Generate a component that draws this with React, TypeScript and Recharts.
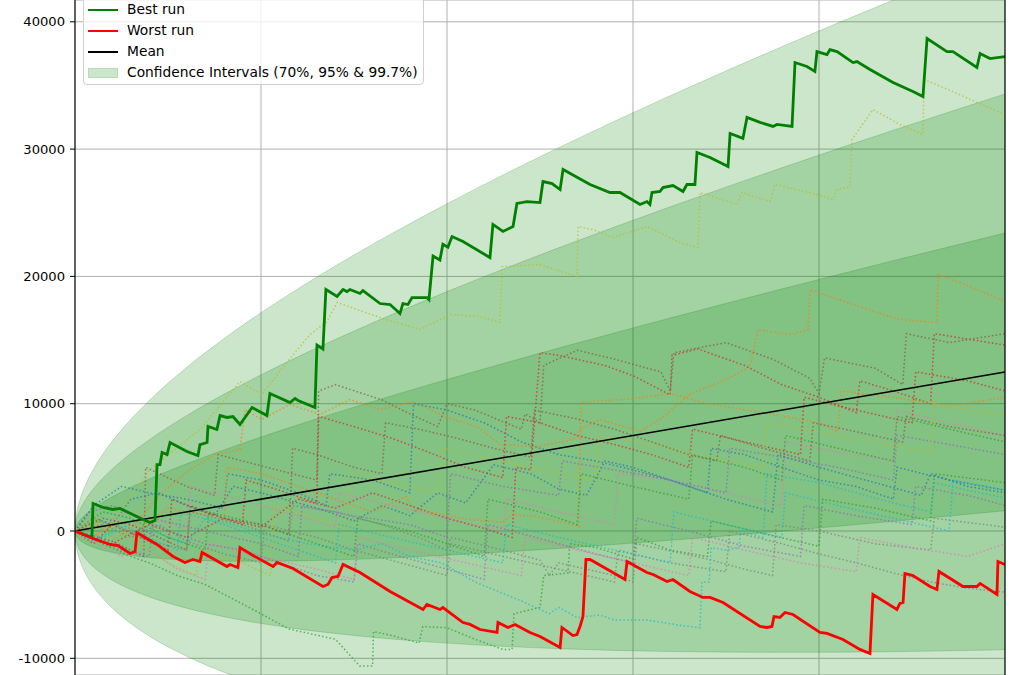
import { ComposedChart, Line, Area, XAxis, YAxis, CartesianGrid, ReferenceLine } from "recharts";

// x = trade number, y = equity
const xTicks = [0, 100, 200, 300, 400, 500];
const yTicks = [-10000, 0, 10000, 20000, 30000, 40000];

// confidence bands read at these trades
const bandTrades = [0, 0.25, 1, 3, 6, 10, 16, 25, 40, 60, 85, 115, 150, 200, 260, 320, 380, 440, 500];
const band70Low = [0, -238, -463, -770, -1045, -1293, -1552, -1815, -2086, -2279, -2373, -2357, -2225, -1900, -1367, -728, -11, 766, 1590];
const band70High = [0, 250, 513, 920, 1345, 1793, 2352, 3065, 4086, 5279, 6623, 8107, 9725, 11900, 14367, 16728, 19011, 21234, 23410];
const band95Low = [0, -482, -951, -1616, -2241, -2837, -3505, -4257, -5175, -6062, -6876, -7595, -8207, -8807, -9243, -9465, -9532, -9479, -9331];
const band95High = [0, 494, 1001, 1766, 2541, 3337, 4305, 5507, 7175, 9062, 11126, 13345, 15707, 18807, 22243, 25465, 28532, 31479, 34331];
const band997Low = [0, -726, -1439, -2461, -3436, -4380, -5457, -6696, -8261, -9841, -11375, -12827, -14182, -15706, -17110, -18193, -19043, -19713, -20241];
const band997High = [0, 738, 1489, 2611, 3736, 4880, 6257, 7946, 10261, 12841, 15625, 18577, 21682, 25706, 30110, 34193, 38043, 41713, 45241];

const meanRun = [[0, 0], [500, 12500]];

const bestRun = [
  [0, 0], [9.1, -510], [9.7, 2160], [15.1, 1850], [20.4, 1690], [24.2, 1770], [36.6, 900], [40.3, 670], [43, 820],
  [44.1, 5220], [45.7, 5220], [46.8, 6170], [49.5, 6010], [51.1, 6950], [60.2, 6240], [66.1, 5930], [67.2, 6790],
  [71, 6950], [71.5, 8210], [76.3, 7970], [78, 9070], [81.7, 8920], [84.9, 8990], [88.7, 8370], [95.2, 9700],
  [103.2, 9070], [104.8, 10800], [115.6, 10090], [118.3, 10410], [119.9, 10250], [129, 9700], [130.1, 14610],
  [133.3, 14300], [134.9, 18970], [140.9, 18420], [144.1, 18970], [146.2, 18810], [147.8, 18970], [153.2, 18660],
  [154.8, 18890], [164, 17870], [169.4, 17790], [174.7, 17080], [176.3, 17870], [179, 17790], [181.2, 18340],
  [189.2, 18340], [190.3, 18180], [192.5, 21600], [196.2, 21290], [197.8, 22530], [200.5, 22300], [202.7, 23130],
  [208.6, 22740], [223.1, 21480], [224.7, 24080], [230.1, 23530], [235.5, 23920], [237.6, 25730], [243, 25880],
  [250, 25800], [251.6, 27450], [256.5, 27290], [260.8, 26820], [262.4, 28400], [276.9, 27220], [287.6, 26590],
  [293, 26590], [303.8, 25650], [307.5, 25880], [309.1, 25650], [310.2, 26590], [314.5, 26670], [316.1, 26980],
  [321.5, 27140], [326.9, 26670], [329, 27220], [333.3, 27220], [334.4, 29730], [341.4, 29340], [346.8, 28950],
  [351.1, 28630], [352.2, 31230], [359.1, 30840], [361.3, 32490], [368.3, 32100], [375.3, 31780], [377.4, 31940],
  [385.5, 31780], [387.1, 36800], [393.5, 36490], [397.8, 36100], [398.9, 37660], [404.3, 37420], [405.9, 37820],
  [409.7, 37660], [418.3, 36800], [420.4, 36880], [427.4, 36250], [439.8, 35230], [450.5, 34520], [455.9, 34130],
  [458.1, 38690], [468.8, 37660], [472, 37660], [484.9, 36410], [486.6, 37510], [491.9, 37110], [500, 37270],
];

const worstRun = [
  [0, 0], [9.7, -590], [18.8, -1060], [23.1, -1140], [29.6, -1770], [32.3, -1610], [33.3, -120], [44.1, -1060],
  [52.7, -2000], [59.1, -2470], [63.4, -2240], [67.2, -2400], [68.3, -1690], [81.7, -2790], [83.3, -2630],
  [87.6, -2870], [88.7, -1300], [95.7, -1920], [106.5, -2790], [108.6, -2470], [117.2, -2950], [133.3, -4360],
  [136, -4200], [138.2, -3650], [141.4, -3570], [144.1, -2630], [153.2, -3260], [169.4, -4750], [187.1, -6170],
  [189.2, -5770], [196.2, -6170], [197.8, -6010], [208.6, -7190], [212.4, -7340], [217.7, -7740], [226.9, -7970],
  [227.4, -7190], [232.8, -7580], [236.6, -7340], [244.6, -7970], [250, -8290], [260.8, -9150], [261.8, -7580],
  [267.7, -8210], [269.9, -8130], [271.5, -7500], [273.1, -6720], [274.7, -2240], [276.9, -2240], [289.2, -3260],
  [295.7, -3810], [296.8, -2400], [307.5, -3260], [310.8, -3420], [318.3, -3970], [321.5, -3810], [330.6, -4750],
  [337.6, -5220], [341.4, -5220], [348.4, -5620], [368.3, -7500], [372, -7580], [374.7, -7500], [375.8, -6720],
  [379, -6790], [381.7, -6400], [386, -6560], [400.5, -7970], [404.3, -8050], [412.9, -8520], [422, -9300],
  [427.4, -9620], [429, -4990], [441.9, -6170], [443.5, -5690], [445.2, -5620], [446.2, -3340], [450.5, -3500],
  [459.7, -4360], [463.4, -4600], [464.5, -3180], [477.4, -4360], [484.9, -4360], [486.6, -4120], [495.7, -4990],
  [496.2, -2400], [500, -2630],
];

// the other simulated runs (dotted)
const runBlue = [[0, 0], [10, 1000], [20, 500], [30, 2500], [45, 3000], [60, 2000], [75, 1200], [85, 3500], [100, 3000], [130, 1800], [150, 800], [165, 2000], [180, 1200], [195, 3000], [210, 2200], [225, 5200], [245, 4500], [260, 3300], [275, 2800], [285, 5500], [300, 5000], [330, 3500], [350, 2500], [375, 1500], [378, 6000], [400, 5000], [430, 3800], [455, 2800], [460, 4500], [480, 3500], [500, 3000]];
const runOrange = [[0, 0], [10.8, 900], [21.5, -670], [32.3, 510], [45.7, 2870], [61.8, 4830], [75.3, 6010], [88.7, 6400], [91.4, 9540], [100.5, 8760], [115.6, 9940], [131.7, 9150], [147.8, 10330], [164, 9540], [181.7, 10170], [200, 8920], [216.1, 8210], [228.5, 6790], [248.4, 6640], [267.7, 7190], [271.5, 7970], [282.3, 8760], [303.8, 7820], [314.5, 8760], [330.6, 10720], [352.2, 12060], [362.9, 12920], [367.2, 15830], [384.4, 15430], [394.1, 15830], [395.2, 18970], [415.1, 17950], [431.2, 17160], [443.5, 16610], [463.4, 16380], [464, 20150], [475.8, 19520], [500, 18030]];
const runGreen = [[0, 0], [15, -1000], [30, -2000], [40, -2500], [55, -3500], [70, -4200], [100, -6500], [115, -7700], [140, -8500], [153, -10600], [160, -10600], [160.5, -7900], [170, -8200], [185, -8800], [187, -7500], [200, -7600], [215, -8500], [230, -9300], [235, -9300], [236, -6500], [250, -6000], [252, -3500], [265, -3300], [266, -1000], [280, -1300], [300, -2200], [302, -500], [320, -1500], [340, -2000], [342, 800], [370, -200], [400, -1200], [402, 2500], [430, 1800], [460, 800], [462, 4500], [500, 3800]];
const runRed = [[0, 0], [20, -1000], [40, 500], [60, -500], [80, 1000], [100, 300], [120, 2500], [140, 1800], [160, 3000], [180, 2000], [200, 1000], [220, 200], [235, -500], [237, 5000], [245, 4800], [250, 14000], [260, 13800], [285, 13000], [300, 12200], [320, 10700], [321, 13800], [335, 14300], [360, 13000], [380, 11500], [400, 10500], [420, 9300], [422, 11800], [440, 11000], [460, 10000], [462, 15500], [500, 14600]];
const runPurple = [[0, 0], [8, 1500], [20, 2000], [35, 1000], [50, 0], [70, -1000], [90, -1500], [110, -2500], [130, -3500], [150, -4000], [152, -1000], [170, -1800], [200, -3000], [220, -3800], [222, 500], [240, -200], [260, -1000], [280, -1800], [300, -2500], [302, 1000], [330, 0], [360, -1200], [390, -2000], [392, 2000], [420, 1200], [450, 500], [452, 3500], [480, 2800], [500, 2000]];
const runBrown = [[0, 0], [20, -800], [37, -2000], [38, 5000], [60, 3500], [75, 2800], [77, 6000], [90, 5500], [130, 4000], [131, 11000], [140, 11500], [165, 10300], [180, 9200], [195, 8200], [200, 10000], [215, 9500], [240, 8000], [242, 9200], [250, 8500], [252, 13000], [270, 14200], [290, 13500], [315, 12500], [320, 11000], [322, 14000], [350, 14800], [375, 13500], [395, 12000], [400, 10800], [403, 13600], [430, 12800], [445, 11500], [447, 15500], [470, 14800], [500, 15500]];
const runPink = [[0, 0], [10, -500], [25, 1500], [40, 1000], [60, 200], [62, 3500], [80, 2800], [100, 2000], [120, 1200], [140, 300], [142, 3000], [170, 2000], [200, 1000], [230, 0], [232, 2500], [260, 1500], [290, 500], [292, 4500], [320, 4000], [350, 3000], [380, 2000], [382, 7000], [410, 6200], [440, 5500], [442, 9500], [470, 8500], [500, 7500]];
const runGray = [[0, 0], [12, 800], [25, 300], [40, -800], [60, -1500], [62, 1500], [90, 500], [115, -800], [117, 2000], [140, 1500], [165, 500], [185, -500], [200, -1500], [202, -500], [230, -1500], [250, -2300], [255, -3500], [260, -2500], [290, -3500], [300, -4000], [302, -1000], [340, -2200], [360, -3000], [375, -3500], [377, 500], [400, 0], [430, -1000], [460, -1500], [462, 1000], [500, 300]];
const runOlive = [[0, 0], [10.8, 510], [18.8, 120], [26.9, 2080], [40.3, 4830], [53.8, 6400], [67.2, 7970], [80.6, 10330], [88.7, 11740], [100.5, 10720], [112.9, 13070], [126.3, 15430], [135.5, 16460], [140.9, 17950], [164, 16770], [185.5, 15830], [201.6, 17000], [217.7, 16850], [228.5, 16380], [229.6, 20770], [250, 20930], [269.9, 19990], [270.4, 23920], [278.5, 23680], [289.2, 23050], [307.5, 23920], [325.3, 22660], [334.9, 22270], [336, 26590], [355.9, 25650], [358.6, 26590], [373.7, 25880], [376.3, 27220], [398.9, 26430], [407.5, 26040], [409.7, 26820], [416.7, 27060], [417.7, 30750], [429, 33110], [443.5, 31930], [455.9, 31150], [456.5, 35470], [472, 34520], [484.9, 33660], [500, 32710]];
const runCyan = [[0, 0], [15, -500], [30, 500], [45, -200], [60, -1000], [70, 1000], [85, 500], [100, -200], [125, -1000], [150, -1500], [165, -1000], [180, -2000], [197, -2500], [215, -4000], [240, -5500], [255, -6500], [260, -6000], [270, -6800], [282, -6600], [290, -7000], [308, -7000], [325, -7400], [336, -7600], [337, -4000], [341, -4000], [342, -1300], [350, -1500], [357, -1300], [358, 0], [370, -500], [372, 4500], [400, 3800], [420, 3000], [440, 2200], [460, 1500], [462, 3800], [480, 3200], [500, 2600]];
const runBlue2 = [[0, 0], [10, 2000], [25, 3500], [40, 3000], [60, 2500], [80, 1800], [82, 4500], [100, 4000], [120, 3000], [135, 2000], [137, 4500], [160, 4000], [180, 3000], [182, 10000], [200, 9500], [220, 8500], [240, 7000], [260, 6000], [280, 5500], [300, 4800], [320, 4000], [340, 3000], [342, 6500], [360, 6000], [380, 5000], [400, 4000], [420, 3500], [440, 2500], [442, 5000], [470, 4000], [500, 3200]];
const runOrange2 = [[0, 0], [10, -500], [20, 800], [35, 300], [50, 1800], [80, 1000], [82, 5000], [100, 4500], [120, 3500], [140, 2500], [160, 1500], [178, 2700], [182, 1700], [212, 900], [230, 670], [235, 1300], [248, 1140], [271, 350], [272, 10100], [300, 10400], [320, 10800], [340, 10000], [370, 9300], [400, 8500], [410, 7800], [412, 11000], [440, 10500], [470, 9800], [500, 10500]];
const runGreen2 = [[0, 0], [15, 1500], [30, 1000], [50, -500], [70, -1500], [72, 1500], [100, 500], [130, -1000], [150, -2000], [152, 1000], [180, 0], [200, -1000], [220, -2000], [222, 2500], [250, 1500], [270, 500], [272, 4500], [300, 3500], [330, 2500], [332, 6000], [360, 5000], [380, 4000], [382, 7500], [410, 6500], [440, 5500], [442, 9000], [470, 8000], [500, 7000]];
const runRed2 = [[0, 0], [10, -1000], [20, 500], [35, -500], [50, -1500], [52, 2500], [70, 1500], [90, 500], [92, 4000], [110, 3200], [130, 2200], [131, 9000], [150, 8200], [170, 7300], [190, 6200], [210, 5000], [230, 4200], [232, 9000], [250, 8500], [270, 7500], [290, 6800], [310, 6000], [330, 5000], [332, 8000], [360, 7000], [390, 6000], [392, 10500], [420, 9500], [450, 8500], [452, 12500], [480, 11800], [500, 11000]];
const runPurple2 = [[0, 0], [10, -500], [25, -1500], [40, -2000], [42, 1000], [70, 0], [100, -1000], [120, -2000], [122, 2000], [150, 1200], [180, 500], [200, -500], [202, 4500], [230, 3500], [260, 2800], [262, 5500], [290, 4800], [320, 4000], [350, 3000], [352, 6500], [380, 5800], [410, 5000], [440, 4000], [442, 7500], [470, 6800], [500, 6000]];
const runBrown2 = [[0, 0], [15, 1000], [30, 500], [45, -500], [60, -1500], [62, 2000], [80, 1000], [100, 500], [115, -300], [117, 6500], [130, 6000], [150, 5000], [165, 4500], [167, 8500], [185, 8000], [205, 7300], [225, 6500], [245, 5800], [247, 9500], [270, 8800], [290, 8000], [310, 7000], [330, 6000], [345, 5500], [347, 7500], [370, 6500], [395, 5500], [397, 8500], [420, 7800], [445, 7000], [447, 9000], [470, 8200], [500, 7500]];
const runPink2 = [[0, 0], [12, -1000], [25, -2000], [40, -1500], [55, -3000], [70, -3800], [72, -1000], [100, -2000], [130, -3000], [150, -3800], [152, -500], [180, -1500], [210, -2500], [240, -3500], [242, -500], [270, -1500], [300, -2500], [330, -3500], [332, -500], [360, -1500], [390, -2500], [420, -3200], [422, -500], [450, -1300], [480, -2000], [500, -1000]];
const runGray2 = [[0, 0], [15, 500], [30, -500], [45, 500], [60, -800], [80, -1800], [100, -2500], [102, 500], [130, -500], [150, -1500], [175, -2500], [200, -3500], [202, -1000], [230, -2000], [260, -3000], [290, -4000], [292, -1500], [320, -2500], [350, -3200], [352, 0], [380, -1000], [400, -1800], [420, -2500], [440, -3300], [460, -4000], [480, -4500], [500, -4800]];
const runOlive2 = [[0, 0], [10, 1000], [20, 300], [35, -1000], [50, -2500], [65, -3500], [67, -1500], [90, -2500], [105, -3500], [107, 2000], [130, 1000], [145, 200], [147, 4500], [170, 3800], [195, 3000], [197, 6500], [220, 5800], [250, 4800], [280, 4000], [282, 7500], [310, 6800], [340, 5800], [370, 5000], [372, 8500], [400, 7800], [430, 7000], [460, 6200], [462, 10000], [500, 9000]];
const runCyan2 = [[0, 0], [10, -800], [25, 500], [40, -500], [55, -1500], [57, 1500], [80, 500], [100, -500], [120, -1500], [140, -2500], [142, 500], [170, -500], [200, -1500], [230, -2500], [232, 500], [260, -500], [290, -1500], [320, -2500], [322, 1500], [350, 500], [380, -500], [382, 3000], [410, 2000], [440, 1000], [470, 0], [472, 4000], [500, 3200]];

const otherRuns = [
  { run: runBlue, color: "#1f77b4" }, { run: runOrange, color: "#ff7f0e" }, { run: runGreen, color: "#2ca02c" },
  { run: runRed, color: "#d62728" }, { run: runPurple, color: "#9467bd" }, { run: runBrown, color: "#8c564b" },
  { run: runPink, color: "#e377c2" }, { run: runGray, color: "#7f7f7f" }, { run: runOlive, color: "#bcbd22" },
  { run: runCyan, color: "#17becf" }, { run: runBlue2, color: "#1f77b4" }, { run: runOrange2, color: "#ff7f0e" },
  { run: runGreen2, color: "#2ca02c" }, { run: runRed2, color: "#d62728" }, { run: runPurple2, color: "#9467bd" },
  { run: runBrown2, color: "#8c564b" }, { run: runPink2, color: "#e377c2" }, { run: runGray2, color: "#7f7f7f" },
  { run: runOlive2, color: "#bcbd22" }, { run: runCyan2, color: "#17becf" },
];

const pts = (arr: number[][]) => arr.map(([t, v]) => ({ t, v }));

const bandData = bandTrades.map((t, i) => ({
  t,
  b70: [band70Low[i], band70High[i]],
  b95: [band95Low[i], band95High[i]],
  b997: [band997Low[i], band997High[i]],
}));

const FONT = "'DejaVu Sans', sans-serif";

function LegendBox() {
  const rows = [
    { label: "Best run", kind: "line", color: "#008000", w: 2.6 },
    { label: "Worst run", kind: "line", color: "#ff0000", w: 2.6 },
    { label: "Mean", kind: "line", color: "#000000", w: 1.4 },
    { label: "Confidence Intervals (70%, 95% & 99.7%)", kind: "patch", color: "#cce6cc", w: 0 },
  ];
  return (
    <div
      style={{
        position: "absolute",
        left: 83,
        top: -9,
        width: 341,
        height: 94,
        background: "rgba(255,255,255,0.8)",
        border: "1px solid #d0d0d0",
        borderRadius: 4,
        boxSizing: "border-box",
        fontFamily: FONT,
        fontSize: 13.8,
        color: "#000",
      }}
    >
      {rows.map((r, i) => (
        <div key={r.label} style={{ position: "absolute", left: 0, top: 8 + i * 21, height: 21, width: "100%" }}>
          {r.kind === "line" ? (
            <div style={{ position: "absolute", left: 4, top: 10 - r.w / 2, width: 30, height: r.w, background: r.color }} />
          ) : (
            <div
              style={{
                position: "absolute",
                left: 4,
                top: 5,
                width: 30,
                height: 10,
                background: r.color,
                border: "1px solid #b8dcb8",
                boxSizing: "border-box",
              }}
            />
          )}
          <span style={{ position: "absolute", left: 43, top: 1, whiteSpace: "nowrap" }}>{r.label}</span>
        </div>
      ))}
    </div>
  );
}

export default function App() {
  return (
    <div style={{ position: "absolute", left: 0, top: 0, width: 1026, height: 675, overflow: "hidden", background: "#fff" }}>
      <ComposedChart width={1026} height={675} margin={{ top: 0, right: 21, bottom: 0, left: 0 }}>
        <CartesianGrid stroke="#b0b0b0" strokeWidth={1} />
        <XAxis type="number" dataKey="t" domain={[0, 500]} ticks={xTicks} hide allowDataOverflow />
        <YAxis
          type="number"
          domain={[-11312, 41713]}
          ticks={yTicks}
          allowDataOverflow
          width={75}
          tickSize={5}
          tickMargin={5}
          axisLine={{ stroke: "#000", strokeWidth: 1.1 }}
          tickLine={{ stroke: "#000" }}
          tick={{ fill: "#000", fontSize: 13.1, fontFamily: FONT }}
        />
        <Area data={bandData} dataKey="b997" type="monotone" fill="#008000" fillOpacity={0.2} stroke="#008000" strokeOpacity={0.2} isAnimationActive={false} />
        <Area data={bandData} dataKey="b95" type="monotone" fill="#008000" fillOpacity={0.2} stroke="#008000" strokeOpacity={0.2} isAnimationActive={false} />
        <Area data={bandData} dataKey="b70" type="monotone" fill="#008000" fillOpacity={0.2} stroke="#008000" strokeOpacity={0.2} isAnimationActive={false} />
        {otherRuns.map((r, i) => (
          <Line
            key={i}
            data={pts(r.run)}
            dataKey="v"
            type="linear"
            stroke={r.color}
            strokeOpacity={0.75}
            strokeWidth={1.5}
            strokeDasharray="1.5 2.3"
            dot={false}
            activeDot={false}
            isAnimationActive={false}
          />
        ))}
        <Line data={pts(meanRun)} dataKey="v" type="linear" stroke="#000" strokeWidth={1.5} dot={false} activeDot={false} isAnimationActive={false} />
        <Line data={pts(bestRun)} dataKey="v" type="linear" stroke="#008000" strokeWidth={2.8} dot={false} activeDot={false} isAnimationActive={false} />
        <Line data={pts(worstRun)} dataKey="v" type="linear" stroke="#ff0000" strokeWidth={2.8} dot={false} activeDot={false} isAnimationActive={false} />
        <ReferenceLine x={500} stroke="#000" strokeWidth={1.1} />
      </ComposedChart>
      <LegendBox />
    </div>
  );
}
